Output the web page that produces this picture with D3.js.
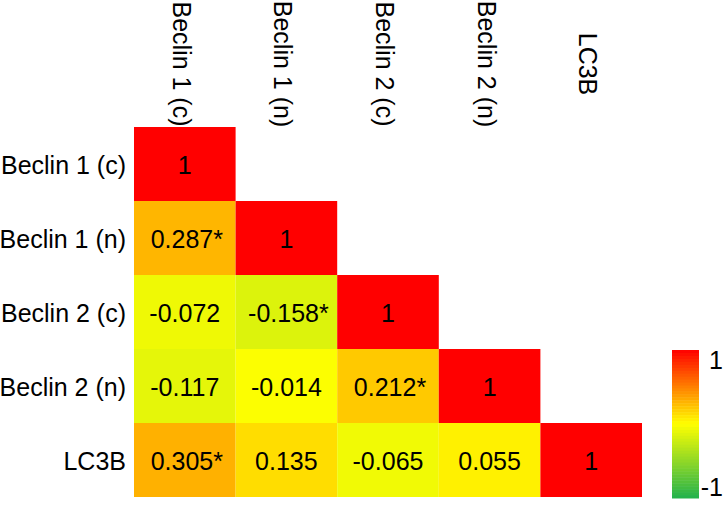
<!DOCTYPE html>
<html>
<head>
<meta charset="utf-8">
<script src="https://cdn.jsdelivr.net/npm/d3@7"></script>
<style>
  html, body { margin: 0; padding: 0; background: #fff; }
  svg { display: block; font-family: Arial, "Liberation Sans", sans-serif; }
</style>
</head>
<body>
<svg id="chart" width="726" height="508"></svg>
<script>
const variables = ["Beclin 1 (c)", "Beclin 1 (n)", "Beclin 2 (c)", "Beclin 2 (n)", "LC3B"];
// lower-triangle correlation values (row i, columns 0..i)
const corrValues = [
  [1],
  [0.287, 1],
  [-0.072, -0.158, 1],
  [-0.117, -0.014, 0.212, 1],
  [0.305, 0.135, -0.065, 0.055, 1]
];
const significant = [
  [false],
  [true, false],
  [false, true, false],
  [false, false, true, false],
  [true, false, false, false, false]
];
const legendTicks = ["1", "-1"];
const legendTickValues = [1, -1];

const svg = d3.select("#chart");
const FS = 25;

const x = d3.scaleBand().domain(variables).range([134, 642]).padding(0);
const y = d3.scaleBand().domain(variables).range([127, 497]).padding(0);

const color = d3.scaleLinear()
  .domain([-1, 0, 1])
  .range(["#22b14c", "#ffff00", "#ff0000"])
  .interpolate(d3.interpolateRgb);

const cells = [];
corrValues.forEach((row, i) => {
  row.forEach((v, j) => {
    cells.push({ r: variables[i], c: variables[j], v: v, sig: significant[i][j] });
  });
});

function fmt(v) {
  if (v === 1) return "1";
  return v.toFixed(3);
}

svg.append("g").selectAll("rect").data(cells).join("rect")
  .attr("x", d => x(d.c))
  .attr("y", d => y(d.r))
  .attr("width", x.bandwidth())
  .attr("height", y.bandwidth())
  .attr("fill", d => color(d.v));

svg.append("g").selectAll("text").data(cells).join("text")
  .attr("x", d => x(d.c) + x.bandwidth() / 2 + (d.sig ? 2 : 0))
  .attr("y", d => y(d.r) + y.bandwidth() / 2 + 1)
  .attr("text-anchor", "middle")
  .attr("dominant-baseline", "central")
  .attr("font-size", FS)
  .attr("fill", "#000")
  .text(d => fmt(d.v) + (d.sig ? "*" : ""));

// row labels
svg.append("g").selectAll("text").data(variables).join("text")
  .attr("x", 126)
  .attr("y", d => y(d) + y.bandwidth() / 2 + 1)
  .attr("text-anchor", "end")
  .attr("dominant-baseline", "central")
  .attr("font-size", FS)
  .text(d => d);

// column labels (rotated)
svg.append("g").selectAll("text").data(variables).join("text")
  .attr("transform", d => `translate(${x(d) + x.bandwidth() / 2 - 3},64) rotate(90)`)
  .attr("text-anchor", "middle")
  .attr("dominant-baseline", "central")
  .attr("font-size", FS)
  .text(d => d);

// legend
const lx = 672, lw = 27;
const ly = d3.scaleLinear().domain([1, -1]).range([350, 498]);
const nStripes = 50;
const stripeVals = d3.range(nStripes).map(k => 1 - (k + 0.5) * 2 / nStripes);
svg.append("g").selectAll("rect").data(stripeVals).join("rect")
  .attr("x", lx)
  .attr("y", d => ly(d + 1 / nStripes))
  .attr("width", lw)
  .attr("height", (ly(-1) - ly(1)) / nStripes + 0.5)
  .attr("fill", d => color(d));

svg.append("g").selectAll("text").data(legendTicks).join("text")
  .attr("x", 723)
  .attr("y", (d, i) => legendTickValues[i] === 1 ? 360 : 487)
  .attr("text-anchor", "end")
  .attr("dominant-baseline", "central")
  .attr("font-size", FS)
  .text(d => d);
</script>
</body>
</html>
